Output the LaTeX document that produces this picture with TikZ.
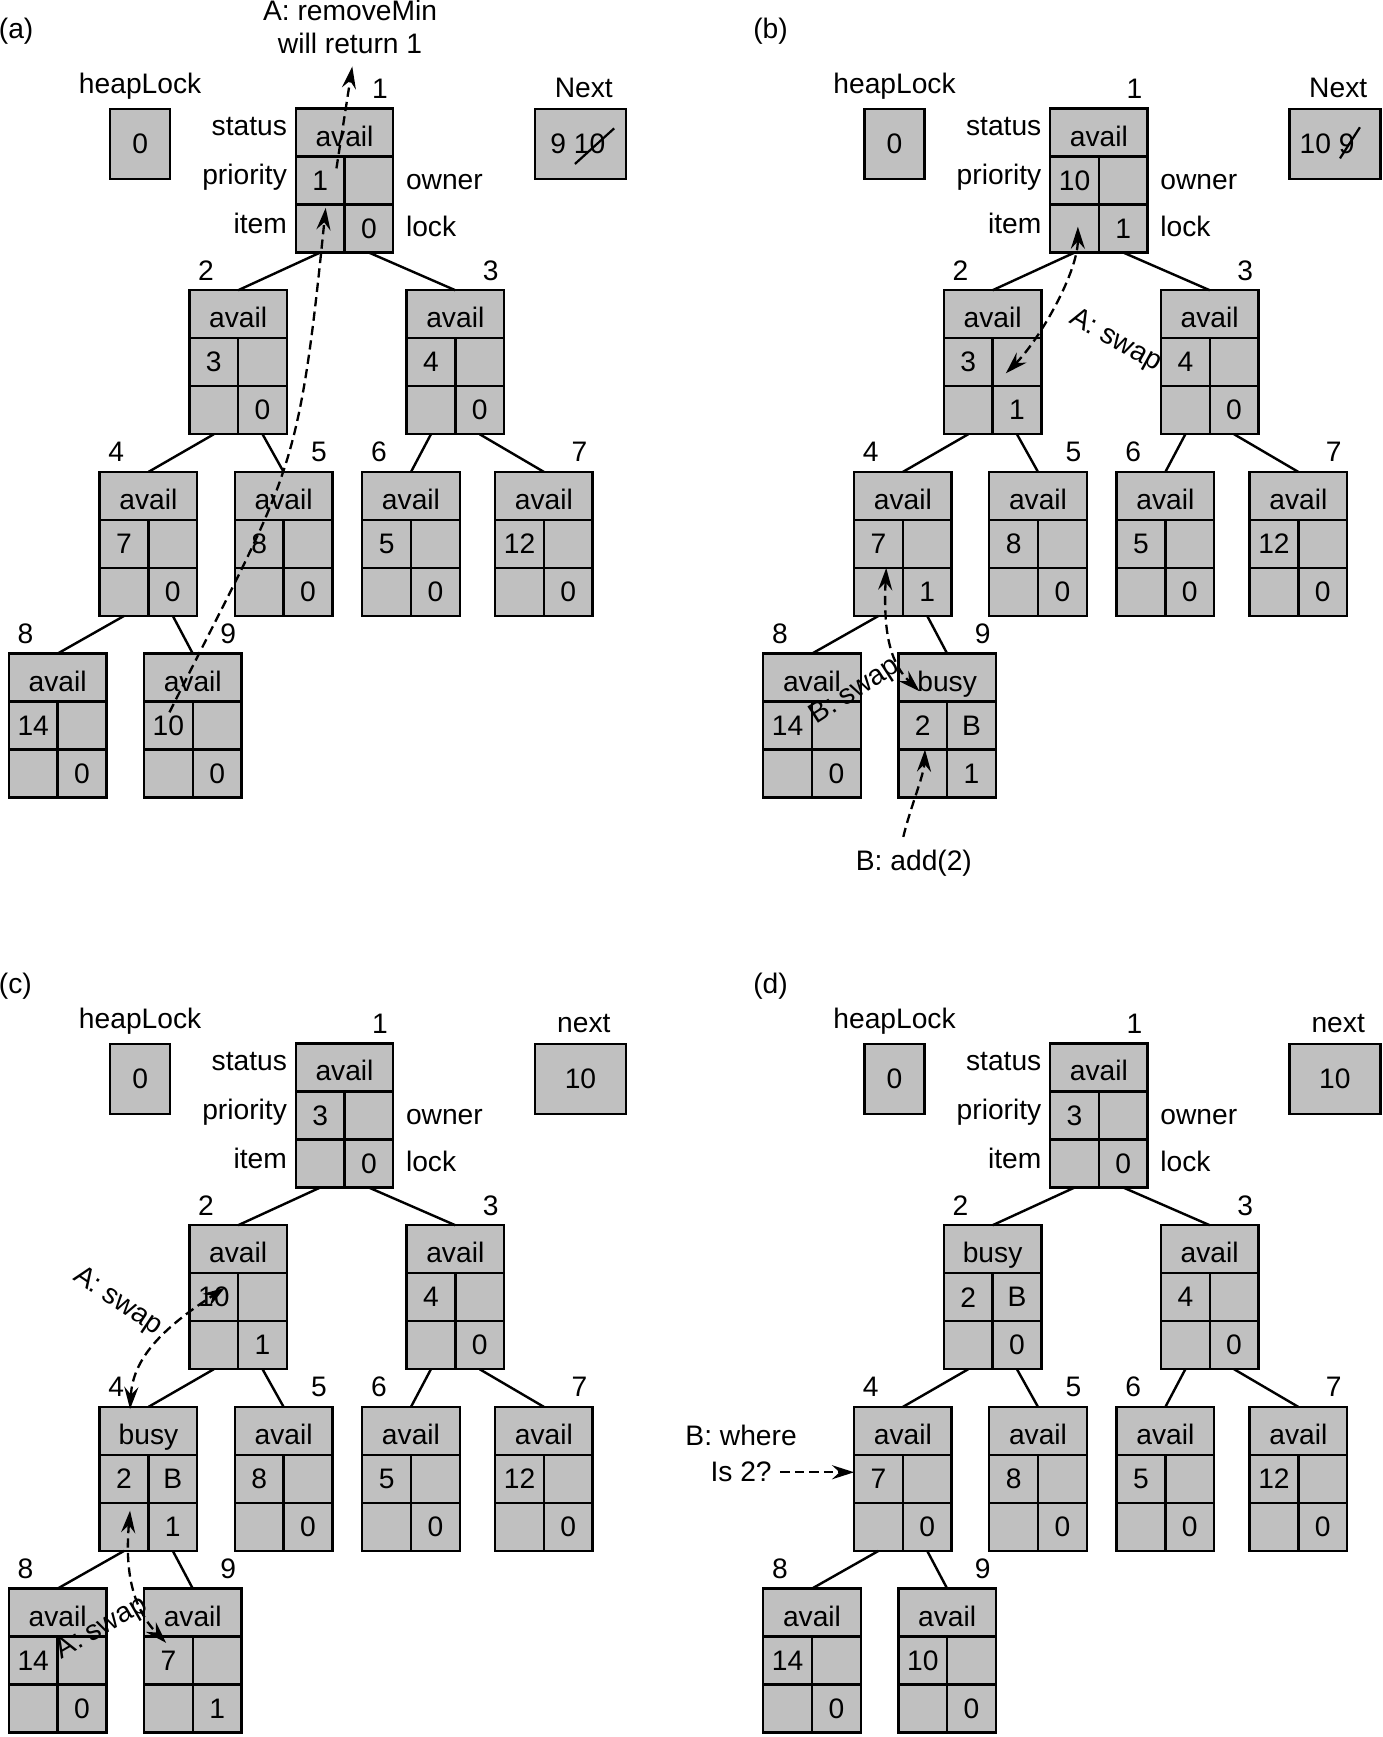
\documentclass[tikz,border=0pt]{standalone}
\usepackage{fontspec}
\setmainfont{Liberation Sans}
\usetikzlibrary{arrows.meta,calc}
\definecolor{cellgray}{RGB}{192,192,192}
\tikzset{
  every node/.style={font=\fontsize{14}{16.5}\selectfont, inner sep=0pt, outer sep=0pt},
  cellbox/.style={draw, fill=cellgray, line width=1.2pt, minimum width=48.4pt, minimum height=23.83pt},
  halfcell/.style={cellbox, minimum width=24.2pt},
  lockbox/.style={draw, fill=cellgray, line width=1.2pt, minimum width=29.7pt, minimum height=34.65pt},
  nextbox/.style={draw, fill=cellgray, line width=1.2pt, minimum width=45.1pt, minimum height=34.65pt},
  treeline/.style={line width=1.2pt},
  dasharr/.style={line width=1.15pt, dash pattern=on 4.6pt off 2.6pt},
  headend/.style={-{Stealth[length=11pt,width=7pt,inset=3.8pt]}},
  headboth/.style={{Stealth[length=11pt,width=7pt,inset=3.8pt]}-{Stealth[length=11pt,width=7pt,inset=3.8pt]}},
  strikeline/.style={line width=1.1pt},
}
% heap node: #1 name, #2 left x, #3 top y, #4 status, #5 priority, #6 owner, #7 lock, #8 label x offset, #9 label
\newcommand\hnode[9]{%
  \node[minimum width=48.4pt,minimum height=71.5pt] (#1) at (#2+44,#3+65) {};
  \node[cellbox] (#1-s) at (#2+44,#3+21.667) {\raisebox{-1.6pt}[\height][0pt]{#4}};
  \node[halfcell] (#1-p) at (#2+22,#3+65) {#5};
  \node[halfcell] (#1-o) at (#2+66,#3+65) {#6};
  \node[halfcell] (#1-i) at (#2+22,#3+108.333) {};
  \node[halfcell] (#1-l) at (#2+66,#3+108.333) {#7};
  \node[anchor=base] (#1-n) at (#2+#8,#3-9) {#9};
}
% panel base: #1 prefix, #2 letter, #3 next label, #4 next content, #5 tag y
\newcommand\panelbase[5]{%
  \node[anchor=west] (#1-tag) at (-1,#5) {(#2)};
  \node[anchor=base] (#1-hl) at (126.5,84) {heapLock};
  \node[lockbox] (#1-hlb) at (126.5,130) {0};
  \node[anchor=base] (#1-nx) at (527,88) {#3};
  \node[nextbox] (#1-nxb) at (524,130) {#4};
  \node[anchor=base east] (#1-lst) at (259,122) {status};
  \node[anchor=base east] (#1-lpr) at (259,167) {priority};
  \node[anchor=base east] (#1-lit) at (259,210.7) {item};
  \node[anchor=base west] (#1-low) at (366.5,171) {owner};
  \node[anchor=base west] (#1-llk) at (366.5,213.7) {lock};
}
\newcommand\treeedges[1]{%
  \draw[treeline] (#1-n1-i.south) -- (#1-n2.north);
  \draw[treeline] (#1-n1-l.south) -- (#1-n3.north);
  \draw[treeline] (#1-n2-i.south) -- (#1-n4.north);
  \draw[treeline] (#1-n2-l.south) -- (#1-n5.north);
  \draw[treeline] (#1-n3-i.south) -- (#1-n6.north);
  \draw[treeline] (#1-n3-l.south) -- (#1-n7.north);
  \draw[treeline] (#1-n4-i.south) -- (#1-n8.north);
  \draw[treeline] (#1-n4-l.south) -- (#1-n9.north);
}
\begin{document}
\begin{tikzpicture}[x=0.55pt,y=-0.55pt]
\useasboundingbox (0,0) rectangle (1248,1568);

% ---------------- (a)
\begin{scope}
\panelbase{a}{a}{Next}{}{28}
\node (a-nxt) at (521.6,130) {9 10};
\draw[strikeline] (519,148) -- (554.4,115.9);
\hnode{a-n1}{267}{98}{avail}{1}{}{0}{76}{1}
\hnode{a-n2}{171}{262}{avail}{3}{}{0}{15}{2}
\hnode{a-n3}{367}{262}{avail}{4}{}{0}{76}{3}
\hnode{a-n4}{90}{426}{avail}{7}{}{0}{15}{4}
\hnode{a-n5}{212}{426}{avail}{8}{}{0}{76}{5}
\hnode{a-n6}{327}{426}{avail}{5}{}{0}{15}{6}
\hnode{a-n7}{447}{426}{avail}{12}{}{0}{76}{7}
\hnode{a-n8}{8}{590}{avail}{14}{}{0}{15}{8}
\hnode{a-n9}{130}{590}{avail}{10}{}{0}{76}{9}
\treeedges{a}
\node[align=center] (a-rm) at (316,24.5) {A: removeMin\\will return 1};
\coordinate (a-t1) at (303.7,152);
\coordinate (a-t2) at (318,60);
\draw[dasharr,headend] (a-t1) -- (a-t2);
\coordinate (a-t3) at (153,643);
\draw[dasharr,headend] (a-t3) .. controls (262,425) and (269,436) .. ($(a-n1-i.north)+(5,3)$);
\end{scope}

% ---------------- (b)
\begin{scope}[shift={(681,0)}]
\panelbase{b}{b}{Next}{}{28}
\node (b-nxt) at (517,130) {10 9};
\draw[strikeline] (528.6,143) -- (546.6,114.9);
\hnode{b-n1}{267}{98}{avail}{10}{}{1}{76}{1}
\hnode{b-n2}{171}{262}{avail}{3}{}{1}{15}{2}
\hnode{b-n3}{367}{262}{avail}{4}{}{0}{76}{3}
\hnode{b-n4}{90}{426}{avail}{7}{}{1}{15}{4}
\hnode{b-n5}{212}{426}{avail}{8}{}{0}{76}{5}
\hnode{b-n6}{327}{426}{avail}{5}{}{0}{15}{6}
\hnode{b-n7}{447}{426}{avail}{12}{}{0}{76}{7}
\hnode{b-n8}{8}{590}{avail}{14}{}{0}{15}{8}
\hnode{b-n9}{130}{590}{busy}{2}{B}{1}{76}{9}
\treeedges{b}
% A: swap
\draw[dasharr,headboth] ($(b-n2-o.center)+(-10,10)$) .. controls (257.7,306.3) and (292,246) .. ($(b-n1-i.north)+(3,20)$);
\node[rotate=-29] (b-swA) at (326,308) {A: swap};
% B: swap
\draw[dasharr,headboth] ($(b-n4-i.north)+(7,0)$) .. controls (116,575) and (124,600) .. (149,624);
\node[rotate=33] (b-swB) at (91,624.5) {B: swap};
% B: add(2)
\node (b-add) at (144,779) {B: add(2)};
\coordinate (b-addt) at (134.4,755.5);
\draw[dasharr,headend] (b-addt) .. controls (141,728) and (153,700) .. ($(b-n9-i.north)+(2,0)$);
\end{scope}

% ---------------- (c)
\begin{scope}[shift={(0,844)}]
\panelbase{c}{c}{next}{10}{46}
\hnode{c-n1}{267}{98}{avail}{3}{}{0}{76}{1}
\hnode{c-n2}{171}{262}{avail}{10}{}{1}{15}{2}
\hnode{c-n3}{367}{262}{avail}{4}{}{0}{76}{3}
\hnode{c-n4}{90}{426}{busy}{2}{B}{1}{15}{4}
\hnode{c-n5}{212}{426}{avail}{8}{}{0}{76}{5}
\hnode{c-n6}{327}{426}{avail}{5}{}{0}{15}{6}
\hnode{c-n7}{447}{426}{avail}{12}{}{0}{76}{7}
\hnode{c-n8}{8}{590}{avail}{14}{}{0}{15}{8}
\hnode{c-n9}{130}{590}{avail}{7}{}{1}{76}{9}
\treeedges{c}
% upper A: swap
\draw[dasharr,headboth] ($(c-n4.north west)+(27.4,2)$) .. controls (120,383) and (145,356) .. ($(c-n2-p.center)+(10,-8.5)$);
\node[rotate=-34] (c-swA1) at (106,331) {A: swap};
% lower A: swap
\draw[dasharr,headboth] ($(c-n4-i.north)+(5.4,7)$) .. controls (113,571) and (118,606) .. ($(c-n9-p.north west)+(20,5.7)$);
\node[rotate=30] (c-swA2) at (92,626) {A: swap};
\end{scope}

% ---------------- (d)
\begin{scope}[shift={(681,844)}]
\panelbase{d}{d}{next}{10}{46}
\hnode{d-n1}{267}{98}{avail}{3}{}{0}{76}{1}
\hnode{d-n2}{171}{262}{busy}{2}{B}{0}{15}{2}
\hnode{d-n3}{367}{262}{avail}{4}{}{0}{76}{3}
\hnode{d-n4}{90}{426}{avail}{7}{}{0}{15}{4}
\hnode{d-n5}{212}{426}{avail}{8}{}{0}{76}{5}
\hnode{d-n6}{327}{426}{avail}{5}{}{0}{15}{6}
\hnode{d-n7}{447}{426}{avail}{12}{}{0}{76}{7}
\hnode{d-n8}{8}{590}{avail}{14}{}{0}{15}{8}
\hnode{d-n9}{130}{590}{avail}{10}{}{0}{76}{9}
\treeedges{d}
\node[align=center,font=\fontsize{14}{18.2}\selectfont] (d-where) at (-12,468) {B: where\\Is 2?};
\coordinate (d-qt) at (23.4,485);
\draw[dasharr,headend] (d-qt) -- (d-qt -| d-n4-p.west);
\end{scope}
\end{tikzpicture}
\end{document}
